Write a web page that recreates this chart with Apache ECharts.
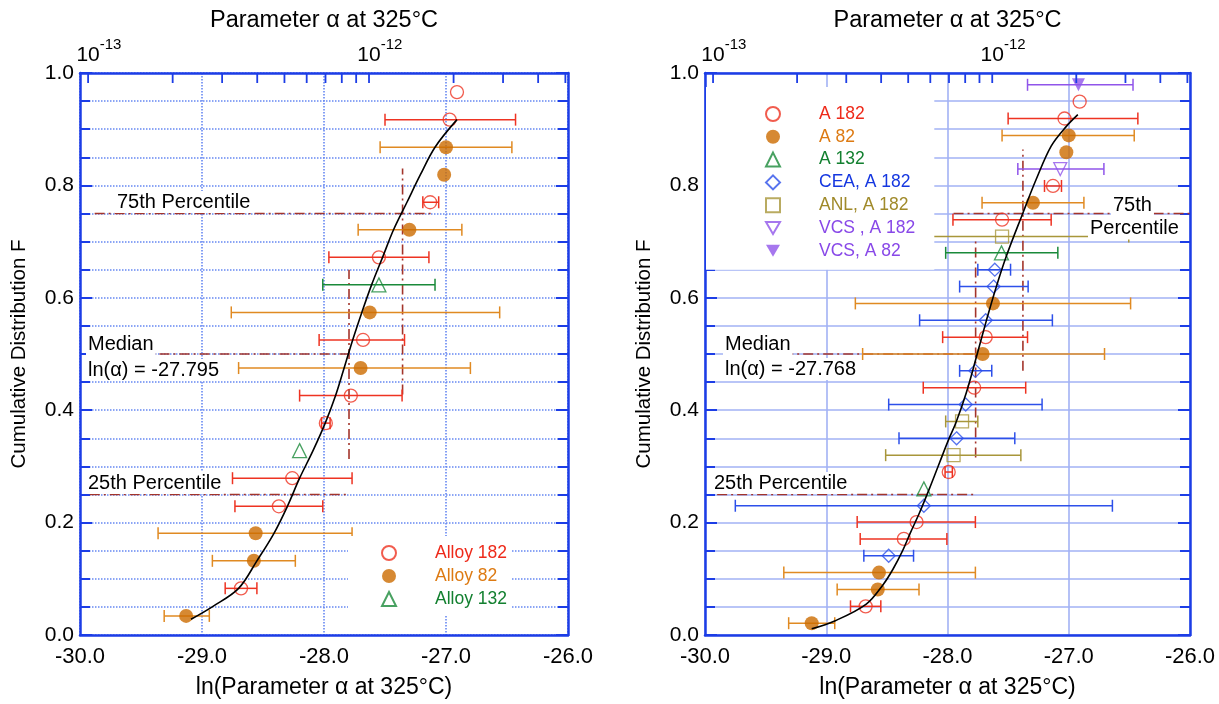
<!DOCTYPE html>
<html><head><meta charset="utf-8">
<script src="https://cdn.jsdelivr.net/npm/echarts@6/dist/echarts.min.js"></script>
<style>html,body{margin:0;padding:0;background:#fff}#c{width:1219px;height:704px}</style>
</head><body><div id="c"></div>
<script>
// ---------- DATA (x = ln(alpha), F = cumulative distribution, lo/hi = error bar ends) ----------
// Left panel
const leftA182 = [
  [-26.91, 0.966, null, null], [-26.97, 0.917, -27.50, -26.43], [-27.13, 0.770, -27.19, -27.06],
  [-27.55, 0.672, -27.96, -27.14], [-27.68, 0.525, -28.04, -27.34], [-27.78, 0.426, -28.20, -27.36],
  [-27.985, 0.377, -28.02, -27.95], [-28.26, 0.279, -28.75, -27.77], [-28.37, 0.229, -28.73, -28.01],
  [-28.68, 0.083, -28.81, -28.55]
];
const leftA82 = [
  [-27.00, 0.868, -27.54, -26.46], [-27.015, 0.819, null, null], [-27.30, 0.721, -27.72, -26.87],
  [-27.625, 0.574, -28.76, -26.56], [-27.70, 0.475, -28.70, -26.80], [-28.56, 0.181, -29.36, -27.77],
  [-28.575, 0.132, -28.915, -28.235], [-29.13, 0.034, -29.31, -28.94]
];
const leftA132 = [[-27.55, 0.623, -28.01, -27.09], [-28.20, 0.328, null, null]];
const leftCurve = [
  [-29.09, 0.028], [-28.91, 0.051], [-28.70, 0.083], [-28.55, 0.132], [-28.41, 0.181], [-28.30, 0.229],
  [-28.20, 0.279], [-28.09, 0.328], [-27.99, 0.377], [-27.905, 0.426], [-27.835, 0.475], [-27.765, 0.525],
  [-27.69, 0.574], [-27.61, 0.623], [-27.52, 0.672], [-27.43, 0.721], [-27.32, 0.770], [-27.21, 0.819],
  [-27.09, 0.868], [-26.91, 0.917]
];
const leftP75H = [[-29.88, 0.75], [-27.115, 0.75]];
const leftMedH = [[-29.84, 0.5], [-27.795, 0.5]];
const leftP25H = [[-29.92, 0.25], [-27.79, 0.25]];
const leftMedV = [[-27.795, 0.313], [-27.795, 0.65]];
const leftP75V = [[-27.356, 0.428], [-27.356, 0.83]];

// Right panel
const rightA182 = [
  [-26.91, 0.949, null, null], [-27.035, 0.919, -27.50, -26.43], [-27.13, 0.799, -27.20, -27.06],
  [-27.55, 0.739, -27.955, -27.145], [-27.685, 0.530, -28.04, -27.34], [-27.78, 0.440, -28.20, -27.355],
  [-27.99, 0.290, -28.02, -27.96], [-28.255, 0.201, -28.745, -27.77], [-28.36, 0.171, -28.72, -28.005],
  [-28.675, 0.051, -28.80, -28.55]
];
const rightA82 = [
  [-27.00, 0.889, -27.55, -26.46], [-27.02, 0.859, null, null], [-27.295, 0.769, -27.715, -26.875],
  [-27.625, 0.590, -28.76, -26.49], [-27.71, 0.500, -28.70, -26.705], [-28.565, 0.111, -29.35, -27.77],
  [-28.575, 0.081, -28.91, -28.235], [-29.12, 0.021, -29.31, -28.93]
];
const rightA132 = [[-27.555, 0.680, -28.015, -27.09], [-28.195, 0.260, null, null]];
const rightCEA = [
  [-27.61, 0.650, -27.75, -27.48], [-27.62, 0.620, -27.90, -27.335], [-27.685, 0.560, -28.23, -27.135],
  [-27.77, 0.470, -27.90, -27.635], [-27.85, 0.410, -28.485, -27.22], [-27.925, 0.350, -28.40, -27.445],
  [-28.195, 0.230, -29.75, -26.64], [-28.485, 0.141, -28.69, -28.28]
];
const rightANL = [[-27.55, 0.709, -28.59, -26.505], [-27.88, 0.380, -28.015, -27.75], [-27.95, 0.320, -28.51, -27.395]];
const rightVCS182 = [[-27.07, 0.829, -27.42, -26.71]];
const rightVCS82 = [[-26.92, 0.979, -27.34, -26.47]];
const rightCurve = [
  [-29.12, 0.011], [-28.93, 0.025], [-28.67, 0.055], [-28.53, 0.09], [-28.45, 0.117], [-28.37, 0.15],
  [-28.31, 0.18], [-28.23, 0.218], [-28.15, 0.26], [-28.065, 0.307], [-27.99, 0.348], [-27.93, 0.378],
  [-27.845, 0.431], [-27.76, 0.496], [-27.68, 0.559], [-27.60, 0.618], [-27.515, 0.674], [-27.378, 0.751],
  [-27.27, 0.81], [-27.145, 0.87], [-27.02, 0.905], [-26.925, 0.926]
];
const rightP75H = [[-27.95, 0.75], [-26.0, 0.75]];
const rightMedH = [[-29.85, 0.5], [-27.768, 0.5]];
const rightP25H = [[-29.9, 0.25], [-27.77, 0.25]];
const rightMedV = [[-27.768, 0.316], [-27.768, 0.70]];
const rightP75V = [[-27.378, 0.47], [-27.378, 0.864]];

// Axis ticks / labels
const xBottomTicks = [-30, -29, -28, -27, -26];
const yTicks = [0, 0.2, 0.4, 0.6, 0.8, 1.0];
const alphaTicks = [1e-13, 2e-13, 3e-13, 4e-13, 5e-13, 6e-13, 7e-13, 8e-13, 9e-13,
                    1e-12, 2e-12, 3e-12, 4e-12, 5e-12];
const alphaLabels = [1e-13, 1e-12];

// ---------- STYLE ----------
const FONT = "'Liberation Sans', Arial, Helvetica, sans-serif";
const AXIS_BLUE = '#1c3de6';
const C = {
  red: '#ee3322', redText: '#ee2a1a',
  orangeFill: '#cc6c00', orangeBar: '#e08a22', orangeText: '#dd7a12',
  green: '#1a8a3a', greenText: '#138030',
  blue: '#2d50ea', blueText: '#1537e0',
  olive: '#a8963a', oliveText: '#a08a2a',
  purple: '#9055ea', purpleText: '#8848e8',
  pct: '#a3342b'
};
const NONE = 'rgba(255,255,255,0)';
const DOWN_TRI = 'path://M0,0L20,0L10,17.3Z';

function errSeries(data, color, xi, yi) {
  return {
    type: 'custom', xAxisIndex: xi, yAxisIndex: yi, silent: true, z: 3, clip: false,
    data: data.filter(d => d[2] != null).map(d => [d[2], d[3], d[1]]),
    encode: { x: [0, 1], y: 2 },
    renderItem: function (params, api) {
      const lo = api.coord([api.value(0), api.value(2)]);
      const hi = api.coord([api.value(1), api.value(2)]);
      const h = 6;
      const style = { stroke: color, lineWidth: 1.5, fill: null };
      return { type: 'group', children: [
        { type: 'line', shape: { x1: lo[0], y1: lo[1], x2: hi[0], y2: hi[1] }, style: style },
        { type: 'line', shape: { x1: lo[0], y1: lo[1] - h, x2: lo[0], y2: lo[1] + h }, style: style },
        { type: 'line', shape: { x1: hi[0], y1: hi[1] - h, x2: hi[0], y2: hi[1] + h }, style: style }
      ] };
    }
  };
}
// top (log alpha) axis ticks: ln(alpha) positions through the panel's x scale, hanging from F = 1.0
function topTicks(xi, yi) {
  const top = yTicks[yTicks.length - 1];
  return {
    type: 'custom', xAxisIndex: xi, yAxisIndex: yi, silent: true, z: 10, clip: false,
    data: alphaTicks.map(a => [Math.log(a), top, top]),
    encode: { x: 0, y: [1, 2] },
    renderItem: function (params, api) {
      const p = api.coord([api.value(0), api.value(1)]);
      return { type: 'rect', shape: { x: p[0] - 0.9, y: p[1], width: 1.8, height: 10 },
        style: { fill: AXIS_BLUE } };
    }
  };
}
function pts(name, data, symbol, size, fill, border, xi, yi) {
  return {
    type: 'scatter', name: name, xAxisIndex: xi, yAxisIndex: yi, silent: true, z: 4,
    symbol: symbol, symbolSize: size,
    itemStyle: { color: fill, borderColor: border, borderWidth: fill === NONE ? 1.3 : 0 },
    data: data.map(d => [d[0], d[1]])
  };
}
function pline(data, xi, yi) {
  return {
    type: 'line', xAxisIndex: xi, yAxisIndex: yi, silent: true, symbol: 'none', z: 2,
    lineStyle: { color: C.pct, width: 1.6, type: [10, 4, 2, 4] }, data: data
  };
}
function curve(data, xi, yi) {
  return {
    type: 'line', xAxisIndex: xi, yAxisIndex: yi, silent: true, symbol: 'none', z: 5,
    smooth: 0.35, lineStyle: { color: '#000', width: 1.6 }, data: data
  };
}

function gridLine(dotted) {
  return dotted
    ? { show: true, lineStyle: { color: '#6688f2', width: 1.6, type: [1.5, 1.5] } }
    : { show: true, lineStyle: { color: '#a2b2f4', width: 1.6 } };
}
function bottomX(gi, dotted) {
  return {
    type: 'value', gridIndex: gi, position: 'bottom', min: xBottomTicks[0], max: xBottomTicks[xBottomTicks.length - 1],
    interval: 1,
    axisLine: { show: true, onZero: false, lineStyle: { color: AXIS_BLUE, width: 2.5 } },
    axisTick: { show: false },
    axisLabel: { fontSize: 22, fontFamily: FONT, color: '#000', margin: 11, formatter: v => v.toFixed(1) },
    splitLine: gridLine(dotted),
    name: 'ln(Parameter α at 325°C)', nameLocation: 'middle', nameGap: 41,
    nameTextStyle: { fontSize: 23, fontFamily: FONT, color: '#000' }
  };
}
function topX(gi) {
  return {
    type: 'value', gridIndex: gi, position: 'top', min: xBottomTicks[0], max: xBottomTicks[xBottomTicks.length - 1],
    axisLine: { show: true, onZero: false, lineStyle: { color: AXIS_BLUE, width: 2.5 } },
    axisTick: { show: false },
    axisLabel: {
      show: true, margin: 7, fontFamily: FONT, color: '#000',
      customValues: alphaLabels.map(a => Math.log(a)),
      formatter: function (v) {
        const e = Math.round(Math.log10(Math.exp(v)));
        return '{h|' + e + '}{b|10}{s|' + e + '}';
      },
      rich: {
        b: { fontSize: 21, fontFamily: FONT, color: '#000', verticalAlign: 'bottom', lineHeight: 29 },
        s: { fontSize: 15, fontFamily: FONT, color: '#000', verticalAlign: 'top' },
        h: { fontSize: 15, fontFamily: FONT, color: 'rgba(0,0,0,0)', verticalAlign: 'top' }
      }
    },
    splitLine: { show: false },
    name: 'Parameter α at 325°C', nameLocation: 'middle', nameGap: 40,
    nameTextStyle: { fontSize: 23.5, fontFamily: FONT, color: '#000' }
  };
}
function leftY(gi, dotted) {
  return {
    type: 'value', gridIndex: gi, position: 'left', min: yTicks[0], max: yTicks[yTicks.length - 1], interval: 0.2,
    axisLine: { show: true, onZero: false, lineStyle: { color: AXIS_BLUE, width: 2.5 } },
    axisTick: { show: true, inside: true, length: 12, lineStyle: { color: AXIS_BLUE, width: 2 } },
    minorTick: { show: true, splitNumber: 4, length: 10, lineStyle: { color: AXIS_BLUE, width: 2 } },
    axisLabel: { fontSize: 21, fontFamily: FONT, color: '#000', margin: 6, formatter: v => v.toFixed(1) },
    splitLine: gridLine(dotted),
    minorSplitLine: gridLine(dotted),
    name: 'Cumulative Distribution F', nameLocation: 'middle', nameGap: 50,
    nameTextStyle: { fontSize: 20.5, fontFamily: FONT, color: '#000' }
  };
}
function rightY(gi) {
  return {
    type: 'value', gridIndex: gi, position: 'right', min: yTicks[0], max: yTicks[yTicks.length - 1], interval: 0.2,
    axisLine: { show: true, onZero: false, lineStyle: { color: AXIS_BLUE, width: 2.5 } },
    axisTick: { show: true, inside: true, length: 12, lineStyle: { color: AXIS_BLUE, width: 2 } },
    minorTick: { show: true, splitNumber: 4, length: 10, lineStyle: { color: AXIS_BLUE, width: 2 } },
    axisLabel: { show: false }, splitLine: { show: false }
  };
}

function txt(x, y, text, pad) {
  return {
    type: 'text', x: x, y: y, z: 100,
    style: { text: text, fontSize: 20, fontFamily: FONT, fill: '#000', verticalAlign: 'middle',
      backgroundColor: '#fff', padding: pad || [1, 2] }
  };
}
function legendText(color) { return { color: color }; }

const option = {
  animation: false,
  backgroundColor: '#fff',
  grid: [
    { left: 80, top: 73, width: 488, height: 566 },
    { left: 705, top: 73, width: 485, height: 563 }
  ],
  xAxis: [bottomX(0, true), topX(0), bottomX(1, false), topX(1)],
  yAxis: [leftY(0, true), rightY(0), leftY(1, false), rightY(1)],
  legend: [
    {
      orient: 'vertical', left: 348, top: 536, padding: [8, 4, 7, 33], itemWidth: 14, itemHeight: 14, itemGap: 5,
      backgroundColor: '#fff', selectedMode: false, z: 6,
      textStyle: { fontSize: 17.5, fontFamily: FONT, padding: [0, 0, 0, 34] },
      data: [
        { name: 'Alloy 182', textStyle: legendText(C.redText) },
        { name: 'Alloy 82', textStyle: legendText(C.orangeText) },
        { name: 'Alloy 132', textStyle: legendText(C.greenText) }
      ]
    },
    {
      orient: 'vertical', left: 706, top: 87, padding: [18, 19, 10, 59], itemWidth: 14, itemHeight: 14, itemGap: 4.8,
      backgroundColor: '#fff', selectedMode: false, z: 6,
      textStyle: { fontSize: 17.5, fontFamily: FONT, padding: [0, 0, 0, 34] },
      data: [
        { name: 'A 182', textStyle: legendText(C.redText) },
        { name: 'A 82', textStyle: legendText(C.orangeText) },
        { name: 'A 132', textStyle: legendText(C.greenText) },
        { name: 'CEA, A 182', textStyle: legendText(C.blueText) },
        { name: 'ANL, A 182', textStyle: legendText(C.oliveText) },
        { name: 'VCS , A 182', textStyle: legendText(C.purpleText) },
        { name: 'VCS, A 82', textStyle: legendText(C.purpleText) }
      ]
    }
  ],
  graphic: [
    txt(115, 202, '75th Percentile'),
    txt(86, 344, 'Median'),
    txt(86, 370, 'ln(α) = -27.795'),
    txt(86, 483, '25th Percentile'),
    txt(1111, 205, '75th', [0, 2]),
    txt(1088, 228, 'Percentile', [1, 2, 2, 2]),
    txt(723, 344, 'Median'),
    txt(723, 369, 'ln(α) = -27.768'),
    txt(712, 483, '25th Percentile')
  ],
  series: [
    // left
    pline(leftP75H, 0, 0), pline(leftMedH, 0, 0), pline(leftP25H, 0, 0), pline(leftMedV, 0, 0), pline(leftP75V, 0, 0),
    errSeries(leftA182, C.red, 0, 0), errSeries(leftA82, C.orangeBar, 0, 0), errSeries(leftA132, C.green, 0, 0),
    pts('Alloy 182', leftA182, 'circle', 13, NONE, C.red, 0, 0),
    pts('Alloy 82', leftA82, 'circle', 14, C.orangeFill, C.orangeFill, 0, 0),
    pts('Alloy 132', leftA132, 'triangle', 14, NONE, C.green, 0, 0),
    curve(leftCurve, 0, 0),
    topTicks(0, 0),
    // right
    pline(rightP75H, 2, 2), pline(rightMedH, 2, 2), pline(rightP25H, 2, 2), pline(rightMedV, 2, 2), pline(rightP75V, 2, 2),
    errSeries(rightA182, C.red, 2, 2), errSeries(rightA82, C.orangeBar, 2, 2), errSeries(rightA132, C.green, 2, 2),
    errSeries(rightCEA, C.blue, 2, 2), errSeries(rightANL, C.olive, 2, 2),
    errSeries(rightVCS182, C.purple, 2, 2), errSeries(rightVCS82, C.purple, 2, 2),
    pts('A 182', rightA182, 'circle', 13, NONE, C.red, 2, 2),
    pts('A 82', rightA82, 'circle', 14, C.orangeFill, C.orangeFill, 2, 2),
    pts('A 132', rightA132, 'triangle', 14, NONE, C.green, 2, 2),
    pts('CEA, A 182', rightCEA, 'diamond', 13, NONE, C.blue, 2, 2),
    pts('ANL, A 182', rightANL, 'rect', 13, NONE, C.olive, 2, 2),
    pts('VCS , A 182', rightVCS182, DOWN_TRI, 13, NONE, C.purple, 2, 2),
    pts('VCS, A 82', rightVCS82, DOWN_TRI, 13, C.purple, C.purple, 2, 2),
    curve(rightCurve, 2, 2),
    topTicks(2, 2)
  ]
};
const chart = echarts.init(document.getElementById('c'), null, { renderer: 'canvas' });
chart.setOption(option);
</script></body></html>
